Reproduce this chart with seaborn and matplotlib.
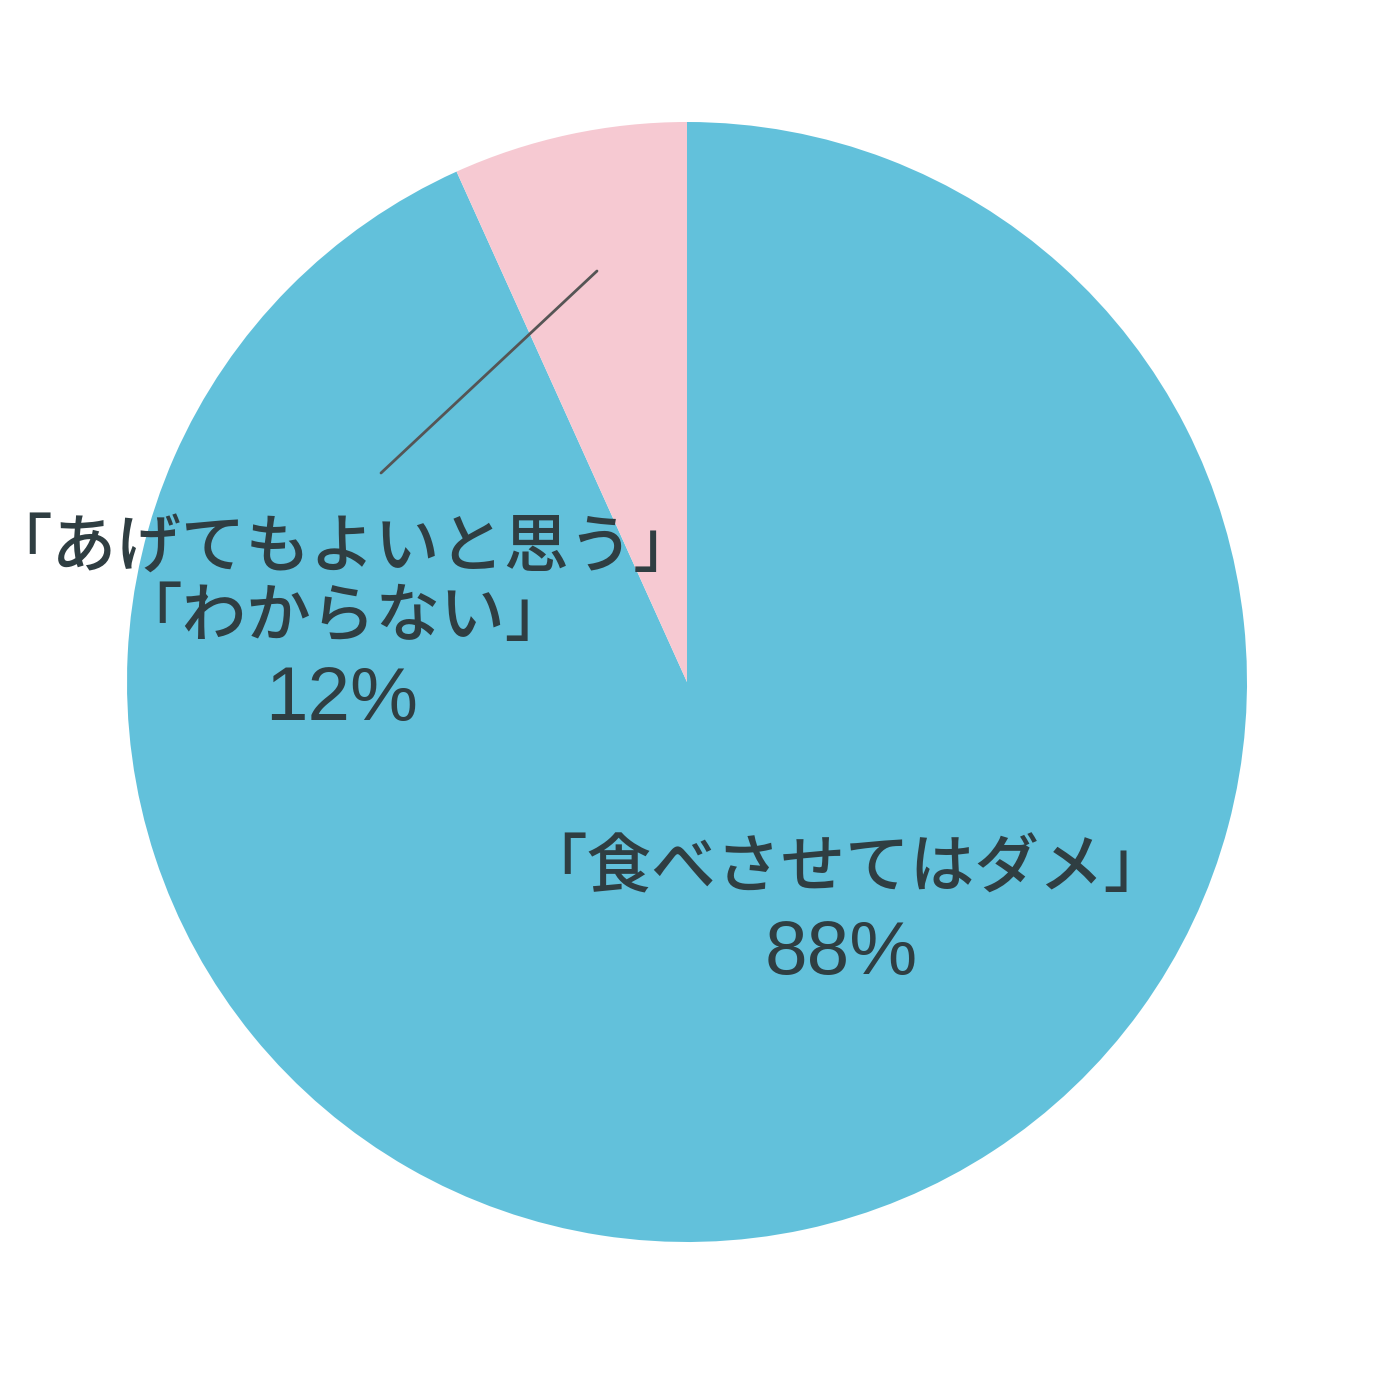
import matplotlib
matplotlib.use("Agg")
import matplotlib.pyplot as plt
import seaborn as sns

# slice sizes as drawn in the picture (the pink wedge is ~24 deg wide)
categories = ["「食べさせてはダメ」", "「あげてもよいと思う」\n「わからない」"]
shares = [93.25, 6.75]
pct_labels = ["88%", "12%"]
colors = ["#62C1DB", "#F6C9D2"]

sns.set_theme(style="white")
plt.rcParams['font.family'] = ['Liberation Sans', 'Noto Sans CJK JP', 'DejaVu Sans']

fig = plt.figure(figsize=(14, 14), dpi=100)
ax = fig.add_axes([0, 0, 1, 1])

# pie drawn clockwise from 12 o'clock, blue first
ax.pie(shares, colors=colors, startangle=90, counterclock=False,
       radius=1.0, wedgeprops=dict(linewidth=0))

# axes limits so that center sits at (687, 682) px with radius 560 px
ax.set_xlim(-687 / 560, (1400 - 687) / 560)
ax.set_ylim(-(1400 - 682) / 560, 682 / 560)
ax.set_aspect('equal')
ax.axis('off')

def px(x, y):
    return (x - 687) / 560, (682 - y) / 560

text_color = "#2F3E42"
fs = 46.5
fs_pct = 55

# leader line
x0, y0 = px(597, 271)
x1, y1 = px(381, 473)
ax.plot([x0, x1], [y0, y1], color="#555555", linewidth=2)

# small slice label
tx, ty = px(343, 584)
ax.text(tx, ty, categories[1], ha='center', va='center',
        fontsize=fs, color=text_color, linespacing=1.2, multialignment='center',
        fontweight='medium')
tx, ty = px(342, 701)
ax.text(tx, ty, pct_labels[1], ha='center', va='center',
        fontsize=fs_pct, color=text_color)

# big slice label
tx, ty = px(845, 870)
ax.text(tx, ty, categories[0], ha='center', va='center',
        fontsize=fs, color=text_color, fontweight='medium')
tx, ty = px(841, 955)
ax.text(tx, ty, pct_labels[0], ha='center', va='center',
        fontsize=fs_pct, color=text_color)

fig.savefig("out.png", dpi=100, facecolor="white")
